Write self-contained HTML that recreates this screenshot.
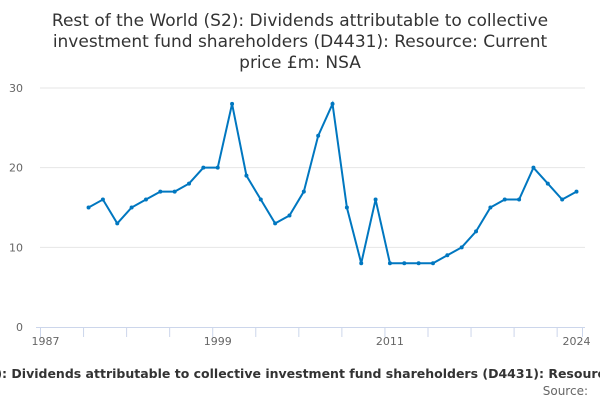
<!DOCTYPE html>
<html><head><meta charset="utf-8"><style>
body{margin:0;width:600px;height:400px;overflow:hidden;background:#fff;font-family:"DejaVu Sans","Liberation Sans",sans-serif}
</style></head><body>
<svg width="600" height="400" id="c">
<text x="300" y="26" text-anchor="middle" font-size="17" fill="#333">Rest of the World (S2): Dividends attributable to collective</text>
<text x="300" y="47" text-anchor="middle" font-size="17" fill="#333">investment fund shareholders (D4431): Resource: Current</text>
<text x="300" y="68" text-anchor="middle" font-size="17" fill="#333">price £m: NSA</text>
<g id="grid"></g><g id="axes"></g><g id="series"></g>
<text x="313" y="378" text-anchor="middle" font-size="12.5" font-weight="bold" fill="#333">Rest of the World (S2): Dividends attributable to collective investment fund shareholders (D4431): Resource: Current price £m: NSA</text>
<text x="588" y="395" text-anchor="end" font-size="12" fill="#666">Source:</text>
</svg>
<script>
const years=[1990,1991,1992,1993,1994,1995,1996,1997,1998,1999,2000,2001,2002,2003,2004,2005,2006,2007,2008,2009,2010,2011,2012,2013,2014,2015,2016,2017,2018,2019,2020,2021,2022,2023,2024];
const values=[15,16,13,15,16,17,17,18,20,20,28,19,16,13,14,17,24,28,15,8,16,8,8,8,8,9,10,12,15,16,16,20,18,16,17];
const yTicks=[0,10,20,30];
const xLabels=[1987,1999,2011,2024];
const NS="http://www.w3.org/2000/svg";
const x=y=>45.5+(y-1987)*(576.5-45.5)/37;
const yS=v=>327-v*(327-88)/30;
function mk(t,a,p){const e=document.createElementNS(NS,t);for(const k in a)e.setAttribute(k,a[k]);p.appendChild(e);return e;}
const grid=document.getElementById('grid'),axes=document.getElementById('axes'),ser=document.getElementById('series');
yTicks.forEach(v=>{
 if(v>0){const l=mk('line',{x1:40,x2:585,y1:yS(v),y2:yS(v),stroke:'#e6e6e6'},grid);
 
 }
 const t=mk('text',{x:23,y:yS(v)+4,'text-anchor':'end','font-size':11,fill:'#666'},axes);t.textContent=v;
 
 
});
const ax=mk('line',{x1:36,x2:585,y1:327.5,y2:327.5,stroke:'#ccd6eb'},axes);


for(let yr=1987;yr<=2024;yr+=3){const tk=mk('line',{x1:x(yr)-5,x2:x(yr)-5,y1:327,y2:337,stroke:'#ccd6eb'},axes);
 
 }
const te=mk('line',{x1:x(2024)+6,x2:x(2024)+6,y1:327,y2:337,stroke:'#ccd6eb'},axes);


xLabels.forEach(yr=>{const t=mk('text',{x:x(yr),y:345,'text-anchor':'middle','font-size':11,fill:'#666'},axes);t.textContent=yr;
 
 });
const d=years.map((yr,i)=>(i?'L':'M')+x(yr)+','+yS(values[i])).join(' ');
const p=mk('path',{d:d,fill:'none',stroke:'#0077c0','stroke-width':2},ser);


years.forEach((yr,i)=>{const c=mk('circle',{cx:x(yr),cy:yS(values[i]),r:2,fill:'#0077c0'},ser);
 
 });
</script>
</body></html>
